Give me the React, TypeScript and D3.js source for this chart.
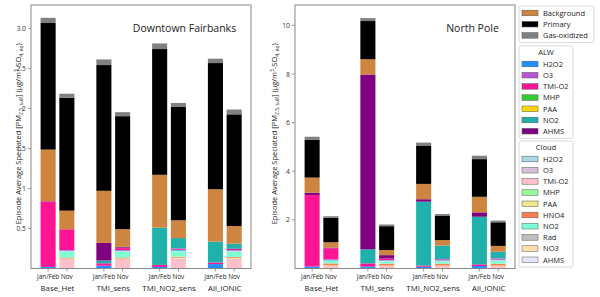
import * as d3 from "d3";

// bar order: Base_Het Jan/Feb, Nov, TMI_sens Jan/Feb, Nov, TMI_NO2_sens Jan/Feb, Nov, All_IONIC Jan/Feb, Nov
const categories = ["Base_Het", "TMI_sens", "TMI_NO2_sens", "All_IONIC"];
const periods = ["Jan/Feb", "Nov"];

const mainKeys = ["Background", "Primary", "Gas-oxidized"];
const mainColors = ["#CD853F", "#000000", "#808080"];
const alwKeys = ["H2O2", "O3", "TMI-O2", "MHP", "PAA", "NO2", "AHMS"];
const alwColors = ["#1E90FF", "#BA55D3", "#FF1493", "#32CD32", "#FFD700", "#20B2AA", "#800080"];
const cloudKeys = ["H2O2", "O3", "TMI-O2", "MHP", "PAA", "HNO4", "NO2", "Rad", "NO3", "AHMS"];
const cloudColors = ["#ADD8E6", "#D8BFD8", "#FFC0CB", "#98FB98", "#F0E68C", "#FF7F50", "#7FFFD4", "#C0C0C0", "#FFDEAD", "#E6E6FA"];

// Downtown Fairbanks
const fbkCloudH2O2 = [0, 0.002, 0, 0.002, 0, 0.002, 0, 0.002];
const fbkCloudTMIO2 = [0, 0.115, 0, 0.115, 0, 0.125, 0, 0.12];
const fbkCloudPAA = [0, 0.008, 0, 0.008, 0, 0.008, 0, 0.008];
const fbkCloudHNO4 = [0, 0.012, 0, 0.012, 0, 0.012, 0, 0.012];
const fbkCloudNO2 = [0, 0.075, 0, 0.075, 0, 0.07, 0, 0.07];
const fbkCloudNO3 = [0, 0.005, 0, 0.005, 0, 0.005, 0, 0.005];
const fbkAlwH2O2 = [0.02, 0.008, 0.035, 0.008, 0.02, 0.008, 0.055, 0.008];
const fbkAlwO3 = [0, 0.005, 0, 0.005, 0, 0.005, 0, 0.005];
const fbkAlwTMIO2 = [0.815, 0.26, 0.03, 0.025, 0.025, 0.015, 0.02, 0.015];
const fbkAlwNO2 = [0, 0, 0.035, 0.005, 0.465, 0.13, 0.26, 0.065];
const fbkAlwAHMS = [0.005, 0, 0.22, 0.01, 0, 0, 0, 0];
const fbkBackground = [0.645, 0.232, 0.65, 0.222, 0.66, 0.222, 0.655, 0.22];
const fbkPrimary = [1.58, 1.41, 1.57, 1.41, 1.57, 1.415, 1.575, 1.395];
const fbkGasOx = [0.065, 0.05, 0.07, 0.05, 0.07, 0.05, 0.055, 0.06];

// North Pole
const npCloudTMIO2 = [0, 0.1, 0, 0.1, 0, 0.1, 0, 0.1];
const npCloudPAA = [0, 0.03, 0, 0.02, 0, 0.02, 0, 0.02];
const npCloudHNO4 = [0, 0.08, 0, 0.08, 0, 0.08, 0, 0.08];
const npCloudNO2 = [0, 0.1, 0, 0.1, 0, 0.1, 0, 0.12];
const npCloudNO3 = [0, 0.02, 0, 0.02, 0, 0.02, 0, 0.02];
const npAlwH2O2 = [0.08, 0.03, 0.08, 0.02, 0.07, 0.02, 0.1, 0.02];
const npAlwO3 = [0, 0.02, 0, 0.01, 0, 0.04, 0, 0.05];
const npAlwTMIO2 = [2.94, 0.45, 0.13, 0.06, 0.05, 0.01, 0.07, 0.01];
const npAlwNO2 = [0, 0, 0.58, 0, 2.63, 0.55, 1.96, 0.27];
const npAlwAHMS = [0.1, 0.03, 7.19, 0.14, 0.1, 0, 0.18, 0];
const npBackground = [0.62, 0.22, 0.63, 0.21, 0.63, 0.23, 0.64, 0.24];
const npPrimary = [1.55, 1.0, 1.57, 0.98, 1.56, 0.99, 1.55, 0.97];
const npGasOx = [0.13, 0.07, 0.12, 0.07, 0.14, 0.08, 0.14, 0.07];

const zeros = [0, 0, 0, 0, 0, 0, 0, 0];

const fbkLayers = [
  { color: cloudColors[0], values: fbkCloudH2O2 },
  { color: cloudColors[2], values: fbkCloudTMIO2 },
  { color: cloudColors[4], values: fbkCloudPAA },
  { color: cloudColors[5], values: fbkCloudHNO4 },
  { color: cloudColors[6], values: fbkCloudNO2 },
  { color: cloudColors[8], values: fbkCloudNO3 },
  { color: alwColors[0], values: fbkAlwH2O2 },
  { color: alwColors[1], values: fbkAlwO3 },
  { color: alwColors[2], values: fbkAlwTMIO2 },
  { color: alwColors[5], values: fbkAlwNO2 },
  { color: alwColors[6], values: fbkAlwAHMS },
  { color: mainColors[0], values: fbkBackground },
  { color: mainColors[1], values: fbkPrimary },
  { color: mainColors[2], values: fbkGasOx },
];

const npLayers = [
  { color: cloudColors[2], values: npCloudTMIO2 },
  { color: cloudColors[4], values: npCloudPAA },
  { color: cloudColors[5], values: npCloudHNO4 },
  { color: cloudColors[6], values: npCloudNO2 },
  { color: cloudColors[8], values: npCloudNO3 },
  { color: alwColors[0], values: npAlwH2O2 },
  { color: alwColors[1], values: npAlwO3 },
  { color: alwColors[2], values: npAlwTMIO2 },
  { color: alwColors[5], values: npAlwNO2 },
  { color: alwColors[6], values: npAlwAHMS },
  { color: mainColors[0], values: npBackground },
  { color: mainColors[1], values: npPrimary },
  { color: mainColors[2], values: npGasOx },
];

const FONT = "'Open Sans', 'DejaVu Sans', sans-serif";
const TOP = 5;
const BOTTOM = 268.5;
const BAR_W = 0.27;
const OFFSET = 0.168;

const Panel = ({ x0, x1, layers, yMax, ticks, tickFmt, title, titleX, labelX }: any) => {
  const x = d3.scaleLinear().domain([-0.475, 3.47]).range([x0, x1]);
  const y = d3.scaleLinear().domain([0, yMax]).range([BOTTOM, TOP]);
  const bars = zeros.map((_, i) => {
    const g = Math.floor(i / 2);
    const c = g + (i % 2 === 0 ? -OFFSET : OFFSET);
    let acc = 0;
    const segs = layers.map((l: any) => {
      const v = l.values[i];
      const s = { y0: acc, y1: acc + v, color: l.color };
      acc += v;
      return s;
    });
    return { c, segs, label: periods[i % 2] };
  });
  const bw = x(BAR_W) - x(0);
  return (
    <g>
      {bars.map((b, i) => (
        <g key={i}>
          {b.segs
            .filter((s: any) => s.y1 > s.y0)
            .map((s: any, j: number) => (
              <rect
                key={j}
                x={x(b.c) - bw / 2}
                y={y(s.y1)}
                width={bw}
                height={y(s.y0) - y(s.y1)}
                fill={s.color}
              />
            ))}
          <line x1={x(b.c)} x2={x(b.c)} y1={BOTTOM} y2={BOTTOM + 3} stroke="#555" strokeWidth={0.6} />
          <text x={x(b.c)} y={BOTTOM + 10} textAnchor="middle" fontSize={6.4} fill="#222" fontFamily={FONT}>
            {b.label}
          </text>
        </g>
      ))}
      {categories.map((c, g) => (
        <text key={c} x={x(g)} y={BOTTOM + 22} textAnchor="middle" fontSize={7.8} fill="#222" fontFamily={FONT}>
          {c}
        </text>
      ))}
      {ticks.map((t: number) => (
        <g key={t}>
          <line x1={x0 - 3} x2={x0} y1={y(t)} y2={y(t)} stroke="#555" strokeWidth={0.6} />
          <text x={x0 - 5} y={y(t) + 2.5} textAnchor="end" fontSize={6.8} fill="#333" fontFamily={FONT}>
            {tickFmt(t)}
          </text>
        </g>
      ))}
      <rect x={x0} y={TOP} width={x1 - x0} height={BOTTOM - TOP} fill="none" stroke="#888" strokeWidth={1} />
      <text x={titleX} y={32} textAnchor="middle" fontSize={10.5} fill="#222" fontFamily={FONT}>
        {title}
      </text>
      <text
        transform={`translate(${labelX},${(TOP + BOTTOM) / 2 - 3}) rotate(-90)`}
        textAnchor="middle"
        fontSize={7.5}
        fill="#222"
        fontFamily={FONT}
      >
        Episode Average Speciated [PM
        <tspan fontSize={5} dy={1.6}>2.5, sulf</tspan>
        <tspan dy={-1.6}>] (μg/m</tspan>
        <tspan fontSize={5} dy={-2.7}>3</tspan>
        <tspan dy={2.7}>-SO</tspan>
        <tspan fontSize={5} dy={1.6}>4, eq</tspan>
        <tspan dy={-1.6}>)</tspan>
      </text>
    </g>
  );
};

const LegendBox = ({ x, y, w, title, keys, colors }: any) => {
  const rowH = 11.2;
  const titleH = title ? 11 : 0;
  const h = titleH + keys.length * rowH + 3;
  return (
    <g>
      <rect x={x} y={y} width={w} height={h} rx={2} fill="white" stroke="#d0d0d0" strokeWidth={0.8} />
      {title && (
        <text x={x + w / 2} y={y + 9} textAnchor="middle" fontSize={7.5} fill="#222" fontFamily={FONT}>
          {title}
        </text>
      )}
      {keys.map((k: string, i: number) => {
        const cy = y + titleH + 7 + i * rowH;
        return (
          <g key={k + i}>
            <rect x={x + 3} y={cy - 2.8} width={16} height={5.6} fill={colors[i]} stroke="#555" strokeWidth={0.5} />
            <text x={x + 24} y={cy + 2.8} fontSize={7.5} fill="#222" fontFamily={FONT}>
              {k}
            </text>
          </g>
        );
      })}
    </g>
  );
};

export default function App() {
  return (
    <svg width={600} height={297} style={{ position: "absolute", left: 0, top: 0, background: "white" }}>
      <Panel
        x0={31}
        x1={251}
        layers={fbkLayers}
        yMax={3.29}
        ticks={[0.5, 1, 1.5, 2, 2.5, 3]}
        tickFmt={(t: number) => (t === 3 ? "3.0" : String(t))}
        title="Downtown Fairbanks"
        titleX={184.5}
        labelX={21}
      />
      <Panel
        x0={295}
        x1={515}
        layers={npLayers}
        yMax={10.84}
        ticks={[2, 4, 6, 8, 10]}
        tickFmt={(t: number) => String(t)}
        title="North Pole"
        titleX={472.5}
        labelX={277}
      />
      <LegendBox x={519} y={6} w={75} keys={mainKeys} colors={mainColors} />
      <LegendBox x={519} y={46} w={54} title="ALW" keys={alwKeys} colors={alwColors} />
      <LegendBox x={519} y={141} w={54} title="Cloud" keys={cloudKeys} colors={cloudColors} />
    </svg>
  );
}
